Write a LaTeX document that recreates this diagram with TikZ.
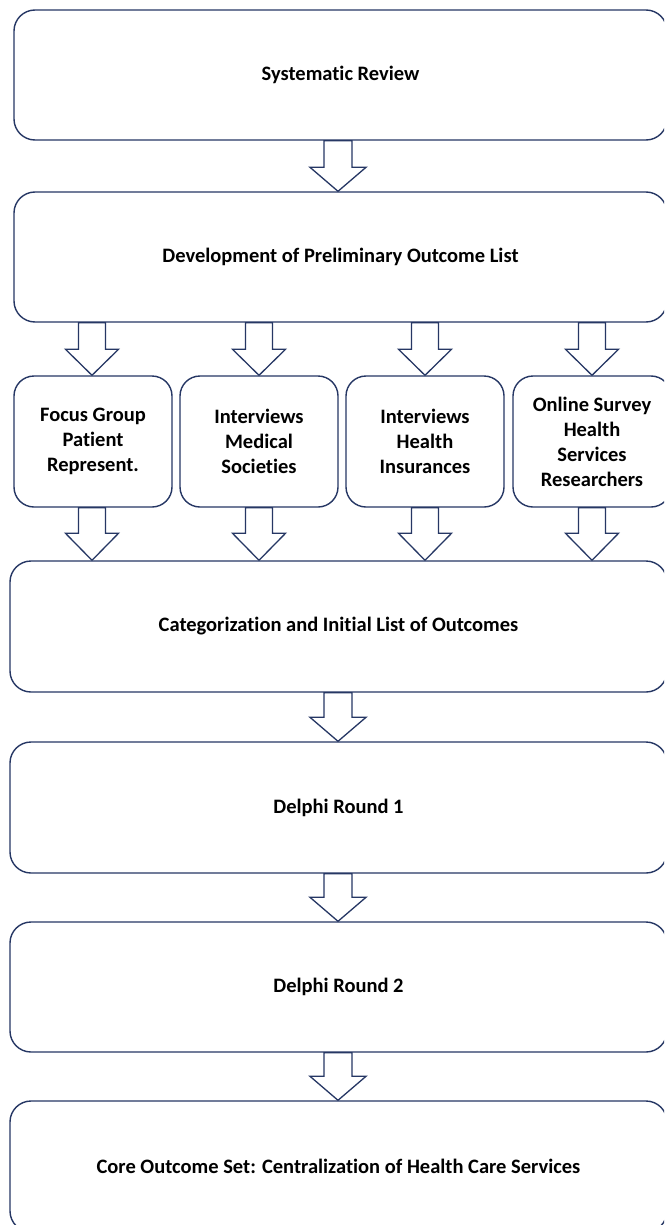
\documentclass[tikz,border=0pt]{standalone}
\usepackage{fontspec}
\setmainfont[Ligatures=NoCommon]{Carlito}
\usetikzlibrary{calc}
\definecolor{navy}{RGB}{38,55,100}
\tikzset{
  box/.style={draw=navy, line width=1.4pt, rounded corners=21pt, rectangle,
    inner sep=0pt, align=center, text=black,
    font=\fontsize{20.5}{25}\selectfont\bfseries},
  bigbox/.style={box, minimum height=130pt},
  smallbox/.style={box, minimum width=158pt, minimum height=131pt, rounded corners=20pt},
  blockarr/.style={draw=navy, line width=1.3pt, fill=white, line join=miter}
}
% #1 source node, #2 target node, #3 column coordinate, #4 shaft half, #5 head half, #6 head length
\newcommand{\blockarrow}[6]{%
  \draw[blockarr] let \p1=(#1.south), \p2=(#2.north), \p3=(#3) in
    ({\x3-#4pt},{\y1}) -- ({\x3-#4pt},{\y2+#6pt}) -- ({\x3-#5pt},{\y2+#6pt}) --
    ({\x3},{\y2}) -- ({\x3+#5pt},{\y2+#6pt}) -- ({\x3+#4pt},{\y2+#6pt}) --
    ({\x3+#4pt},{\y1}) -- cycle;}
\begin{document}
\begin{tikzpicture}[x=1pt,y=-1pt]
\useasboundingbox (0,0) rectangle (664,1225);
\clip (0,0) rectangle (664,1225);
\fill[white] (0,0) rectangle (664,1225);
% columns
\coordinate (cm) at (338,0);
\coordinate (c1) at (92,0);
\coordinate (c2) at (259,0);
\coordinate (c3) at (425,0);
\coordinate (c4) at (592,0);
% boxes
\node[bigbox, minimum width=653pt] (sr) at (340.5,75) {Systematic Review};
\node[bigbox, minimum width=653pt] (dev) at (340.5,257) {Development of Preliminary Outcome List};
\node[smallbox] (fg) at (93,441.5) {Focus Group\\Patient\\Represent.};
\node[smallbox] (ims) at (259,441.5) {Interviews\\Medical\\Societies};
\node[smallbox] (ihi) at (425,441.5) {Interviews\\Health\\Insurances};
\node[smallbox] (os) at (592,441.5) {Online Survey\\Health\\Services\\Researchers};
\node[bigbox, minimum width=657pt, minimum height=131pt] (cat) at (338.5,626.5) {Categorization and Initial List of Outcomes};
\node[bigbox, minimum width=657pt, minimum height=131pt] (d1) at (338.5,807.5) {Delphi Round 1};
\node[bigbox, minimum width=657pt] (d2) at (338.5,987) {Delphi Round 2};
\node[bigbox, minimum width=657pt, minimum height=131pt] (cos) at (338.5,1166.5) {Core Outcome Set: Centralization of Health Care Services};
% arrows
\blockarrow{sr}{dev}{cm}{14}{28}{24}
\blockarrow{dev}{fg}{c1}{13.5}{26.5}{26}
\blockarrow{dev}{ims}{c2}{13.5}{26.5}{26}
\blockarrow{dev}{ihi}{c3}{13.5}{26.5}{26}
\blockarrow{dev}{os}{c4}{13.5}{26.5}{26}
\blockarrow{fg}{cat}{c1}{13.5}{26.5}{27}
\blockarrow{ims}{cat}{c2}{13.5}{26.5}{27}
\blockarrow{ihi}{cat}{c3}{13.5}{26.5}{27}
\blockarrow{os}{cat}{c4}{13.5}{26.5}{27}
\blockarrow{cat}{d1}{cm}{14}{28}{24}
\blockarrow{d1}{d2}{cm}{14}{28}{24}
\blockarrow{d2}{cos}{cm}{14}{28}{24}
\end{tikzpicture}
\end{document}
